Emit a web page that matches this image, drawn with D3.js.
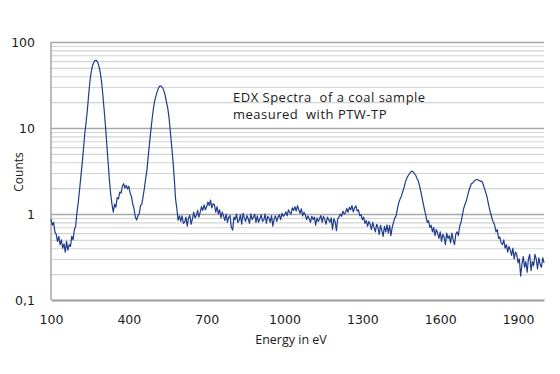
<!DOCTYPE html>
<html>
<head>
<meta charset="utf-8">
<script src="https://cdn.jsdelivr.net/npm/d3@7"></script>
<style>
  html, body { margin: 0; padding: 0; background: #ffffff; }
  svg { display: block; }
</style>
</head>
<body>
<svg id="chart" width="560" height="374"></svg>
<script>
// ---- Data ----
const energyStart = 100;   // eV
const energyStep = 5;      // eV
const counts = [
  0.87,0.74,0.80,0.62,0.58,0.48,0.55,0.44,0.50,0.40,0.45,0.36,0.48,0.38,0.44,0.42,0.55,0.50,0.66,0.72,
  1.05,1.35,1.9,2.7,3.8,5.6,8.5,11.5,16,24,35,45,53,58,61,61,58,52,44,34,
  24,16,10.5,6.5,4.0,2.5,1.7,1.3,1.05,1.3,1.2,1.55,1.5,1.8,1.75,2.1,2.25,2.0,2.15,1.95,
  2.1,1.75,1.6,1.3,1.15,0.92,0.85,0.95,1.0,1.25,1.3,1.6,2.0,2.6,3.3,4.8,6.8,9.5,13,17,
  21,24,27,29.5,31,30.5,29.5,27,24,20,17,13,9,6.2,4.2,2.6,1.5,1.15,0.85,0.95,
  0.82,0.95,0.78,0.80,0.92,0.72,0.90,0.97,0.76,0.88,1.05,0.90,0.96,1.10,0.92,1.05,1.22,1.10,1.28,1.12,
  1.22,1.38,1.25,1.45,1.18,1.32,1.28,1.05,1.22,1.00,1.12,0.90,1.05,0.95,0.84,1.00,0.80,0.92,0.96,0.70,
  0.65,0.92,0.86,1.00,0.80,0.84,0.98,0.76,1.02,0.90,0.82,0.96,0.88,0.78,1.00,0.86,0.92,0.99,0.80,0.95,
  0.80,0.88,0.98,0.82,0.85,1.00,0.78,0.94,0.90,0.80,0.96,0.72,0.88,0.95,0.82,0.92,0.98,0.86,1.02,0.94,
  0.98,1.06,0.95,1.12,1.04,1.00,1.18,1.10,1.22,1.08,1.25,1.12,1.02,1.15,0.95,1.05,0.98,0.86,0.95,0.88,
  0.80,0.94,0.86,0.92,0.74,0.90,0.82,0.88,0.96,0.80,0.94,0.86,0.76,0.92,0.86,0.80,0.90,0.66,0.88,0.82,
  0.64,0.88,0.92,1.00,0.94,1.08,1.00,1.04,1.16,1.05,1.20,1.12,1.25,1.06,1.18,1.24,1.08,1.12,0.95,0.98,
  0.86,0.92,0.78,0.84,0.72,0.82,0.76,0.66,0.80,0.70,0.62,0.76,0.70,0.58,0.74,0.64,0.55,0.72,0.62,0.75,
  0.60,0.74,0.56,0.70,0.80,0.90,0.95,1.15,1.35,1.48,1.60,1.80,2.00,2.30,2.55,2.75,2.90,3.05,3.15,3.10,
  2.95,2.85,2.60,2.45,2.15,1.85,1.55,1.30,1.10,0.95,0.80,0.84,0.70,0.74,0.62,0.70,0.56,0.66,0.60,0.52,
  0.62,0.48,0.58,0.54,0.44,0.60,0.52,0.56,0.46,0.60,0.50,0.44,0.58,0.62,0.56,0.72,0.80,0.95,1.15,1.28,
  1.40,1.60,1.85,2.05,2.25,2.30,2.40,2.48,2.52,2.50,2.45,2.40,2.42,2.25,2.00,1.80,1.60,1.35,1.15,1.00,
  0.88,0.80,0.74,0.62,0.66,0.52,0.54,0.46,0.44,0.50,0.40,0.44,0.36,0.42,0.38,0.33,0.40,0.30,0.36,0.34,
  0.27,0.30,0.19,0.26,0.32,0.24,0.28,0.21,0.30,0.34,0.22,0.28,0.25,0.34,0.30,0.23,0.31,0.26,0.24,0.31,
  0.27
];
const xTickValues = [100, 400, 700, 1000, 1300, 1600, 1900];
const yMajorValues = [0.1, 1, 10, 100];
const yTickLabels = ["0,1", "1", "10", "100"];
const xDomain = [100, 2000];
const yDomain = [0.1, 100];
const titleLines = ["EDX Spectra  of a coal sample", "measured  with PTW-TP"];
const xTitle = "Energy in eV";
const yTitle = "Counts";

// ---- Layout ----
const svg = d3.select("#chart");
const L = 51, R = 544, T = 42, B = 300;

const x = d3.scaleLinear().domain(xDomain).range([L, R]);
const y = d3.scaleLog().domain(yDomain).range([B, T]);

const data = counts.map((c, i) => ({ e: energyStart + i * energyStep, c }));

// minor gridlines (2..9 in each decade)
const minorValues = [];
[0.1, 1, 10].forEach(d => { for (let k = 2; k <= 9; k++) minorValues.push(+(k * d).toPrecision(3)); });

svg.append("g")
  .attr("transform", `translate(${L},0)`)
  .call(d3.axisLeft(y).tickValues(minorValues).tickSize(-(R - L)).tickFormat(""))
  .call(g => g.select(".domain").remove())
  .call(g => g.selectAll(".tick line").attr("stroke", "#d4d4d4").attr("stroke-width", 1.1));

// major gridlines
svg.append("g")
  .attr("transform", `translate(${L},0)`)
  .call(d3.axisLeft(y).tickValues(yMajorValues.slice(1)).tickSize(-(R - L)).tickFormat(""))
  .call(g => g.select(".domain").remove())
  .call(g => g.selectAll(".tick line").attr("stroke", "#a8a8a8").attr("stroke-width", 1.4));

// y axis labels
svg.append("g")
  .attr("transform", `translate(${L},0)`)
  .call(d3.axisLeft(y).tickValues(yMajorValues).tickSize(0).tickPadding(16)
        .tickFormat((d, i) => yTickLabels[i]))
  .call(g => g.select(".domain").remove())
  .call(g => g.selectAll(".tick text")
    .attr("font-family", "DejaVu Sans, sans-serif").attr("font-size", 12.5)
    .attr("fill", "#1a1a1a").attr("dy", "0.36em"));

// left axis line
svg.append("line").attr("x1", L).attr("x2", L).attr("y1", T).attr("y2", B)
  .attr("stroke", "#a0a0a0").attr("stroke-width", 1.4);

// x axis
svg.append("g")
  .attr("transform", `translate(0,${B})`)
  .call(d3.axisBottom(x).tickValues(xTickValues).tickSize(0).tickPadding(15).tickFormat(d3.format("d")))
  .call(g => g.select(".domain").attr("stroke", "#9a9a9a").attr("stroke-width", 2))
  .call(g => g.selectAll(".tick text")
    .attr("font-family", "DejaVu Sans, sans-serif").attr("font-size", 12.5)
    .attr("fill", "#1a1a1a"));

// spectrum line
const line = d3.line().x(d => x(d.e)).y(d => y(d.c));
svg.append("path").datum(data)
  .attr("d", line)
  .attr("fill", "none")
  .attr("stroke", "#1f3c8c")
  .attr("stroke-width", 1.2)
  .attr("stroke-linejoin", "round");

// annotation text (two separate lines)
titleLines.forEach((t, i) => {
  svg.append("text")
    .attr("x", 233).attr("y", 101.5 + i * 17.5)
    .attr("font-family", "Open Sans, sans-serif").attr("font-size", 13)
    .attr("letter-spacing", 0.5)
    .attr("xml:space", "preserve")
    .attr("fill", "#1a1a1a").text(t);
});

// axis titles
svg.append("text")
  .attr("x", 291).attr("y", 343.5)
  .attr("text-anchor", "middle")
  .attr("font-family", "Open Sans, sans-serif").attr("font-size", 12.5)
  .attr("fill", "#1a1a1a").text(xTitle);

svg.append("text")
  .attr("transform", "translate(22.5,172) rotate(-90)")
  .attr("text-anchor", "middle")
  .attr("font-family", "Open Sans, sans-serif").attr("font-size", 12)
  .attr("fill", "#1a1a1a").text(yTitle);
</script>
</body>
</html>
